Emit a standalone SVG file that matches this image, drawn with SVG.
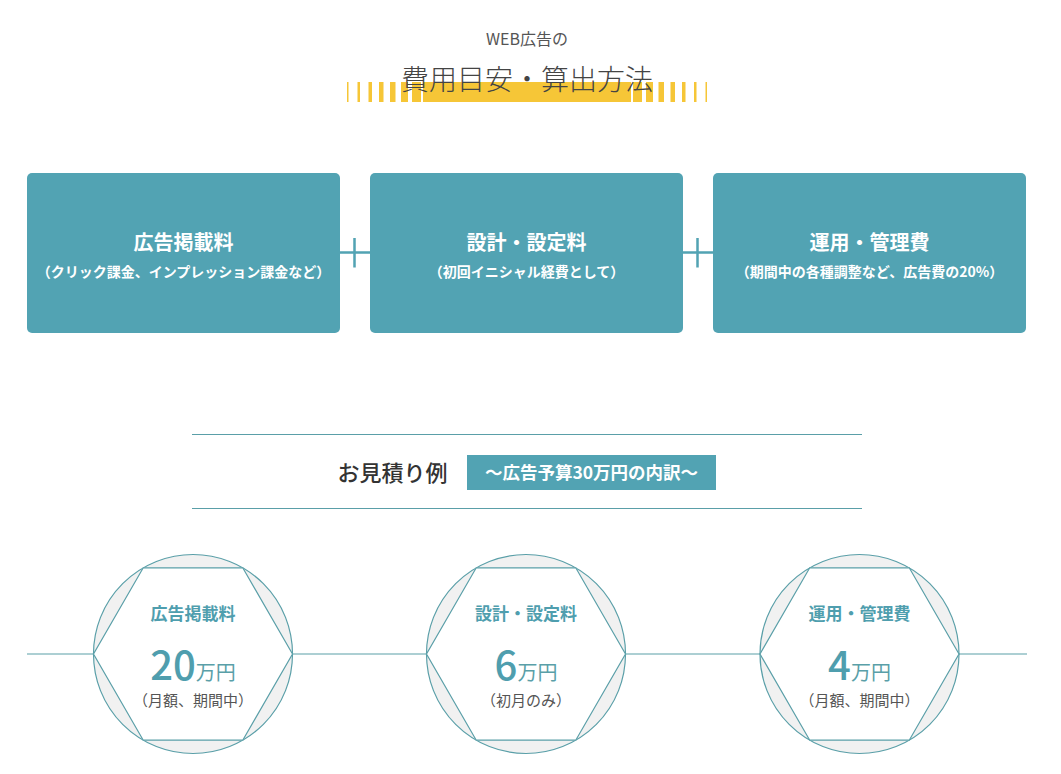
<svg xmlns="http://www.w3.org/2000/svg" width="1061" height="774" viewBox="0 0 1061 774">
<style>
text{font-family:"Noto Sans CJK JP","Noto Sans",sans-serif;text-anchor:middle}
.sub{font-size:16px;fill:#555}
.ttl{font-size:28px;fill:#444;font-weight:300}
.box{fill:#52a3b3}
.bt{font-size:20px;font-weight:700;fill:#fff}
.bs{font-size:14px;font-weight:700;fill:#fff}
.plus{stroke:#52a3b3;stroke-width:2.5;fill:none}
.rule{stroke:#5a9fa8;stroke-width:1.2}
.ct{font-size:17px;font-weight:700;fill:#4f9eae}
.num{font-size:40px;font-weight:500;fill:#4f9eae}
.unit{font-size:20px;fill:#5a9fa8;font-weight:400}
.note{font-size:15px;fill:#555}
.yl{fill:#f6c637}
</style>
<defs>
<g id="hexc">
<circle cx="0" cy="0" r="99.5" fill="#f1f1f1" stroke="#5a9fa8" stroke-width="1.2"/>
<polygon points="99.5,0 49.75,-86.2 -49.75,-86.2 -99.5,0 -49.75,86.2 49.75,86.2" fill="#fff" stroke="#5a9fa8" stroke-width="1.2"/>
</g>
</defs>
<rect width="1061" height="774" fill="#fff"/>
<g id="title">
<g id="stripes">
<rect class="yl" x="347" y="82" width="1.5" height="20"/>
<rect class="yl" x="357.5" y="82" width="2.5" height="20"/>
<rect class="yl" x="368.5" y="82" width="3.5" height="20"/>
<rect class="yl" x="379" y="82" width="4.5" height="20"/>
<rect class="yl" x="390" y="82" width="5.5" height="20"/>
<rect class="yl" x="401" y="82" width="7" height="20"/>
<rect class="yl" x="412" y="82" width="9" height="20"/>
<rect class="yl" x="423" y="82" width="208" height="20"/>
<rect class="yl" x="633" y="82" width="9" height="20"/>
<rect class="yl" x="646" y="82" width="7" height="20"/>
<rect class="yl" x="658.5" y="82" width="5.5" height="20"/>
<rect class="yl" x="670.5" y="82" width="4.5" height="20"/>
<rect class="yl" x="682" y="82" width="3.5" height="20"/>
<rect class="yl" x="694" y="82" width="2.5" height="20"/>
<rect class="yl" x="705.5" y="82" width="1.5" height="20"/>
</g>
<text class="sub" x="527" y="45">WEB広告の</text>
<text class="ttl" x="527" y="90">費用目安・算出方法</text>
</g>
<g id="node1">
<rect class="box" x="27" y="173" width="313" height="160" rx="5"/>
<text class="bt" x="183.5" y="250">広告掲載料</text>
<text class="bs" x="183.5" y="277">（クリック課金、インプレッション課金など）</text>
</g>
<g id="node2">
<rect class="box" x="370" y="173" width="313" height="160" rx="5"/>
<text class="bt" x="526.5" y="250">設計・設定料</text>
<text class="bs" x="526.5" y="277">（初回イニシャル経費として）</text>
</g>
<g id="node3">
<rect class="box" x="713" y="173" width="313" height="160" rx="5"/>
<text class="bt" x="869.5" y="250">運用・管理費</text>
<text class="bs" x="869.5" y="277">（期間中の各種調整など、広告費の20%）</text>
</g>
<g id="connectors">
<path class="plus" d="M340 252.5H370M354.5 238V267.5"/>
<path class="plus" d="M683 252.5H713M697.5 238V267.5"/>
<line x1="27" y1="654" x2="1027" y2="654" stroke="#5a9fa8" stroke-width="1.2"/>
</g>
<g id="example-header">
<line class="rule" x1="192" y1="434.5" x2="862" y2="434.5"/>
<line class="rule" x1="192" y1="508.5" x2="862" y2="508.5"/>
<text x="392.5" y="481" style="font-size:22px;fill:#333;font-weight:500">お見積り例</text>
<rect class="box" x="467" y="455" width="249" height="35"/>
<text x="591.5" y="479" style="font-size:17.5px;fill:#fff;font-weight:700">～広告予算30万円の内訳～</text>
</g>
<g id="circle1">
<use href="#hexc" x="193" y="654"/>
<text class="ct" x="193" y="620">広告掲載料</text>
<text x="193" y="680"><tspan class="num">20</tspan><tspan class="unit">万円</tspan></text>
<text class="note" x="193" y="706">（月額、期間中）</text>
</g>
<g id="circle2">
<use href="#hexc" x="526" y="654"/>
<text class="ct" x="526" y="620">設計・設定料</text>
<text x="526" y="680"><tspan class="num">6</tspan><tspan class="unit">万円</tspan></text>
<text class="note" x="526" y="706">（初月のみ）</text>
</g>
<g id="circle3">
<use href="#hexc" x="859.5" y="654"/>
<text class="ct" x="859.5" y="620">運用・管理費</text>
<text x="859.5" y="680"><tspan class="num">4</tspan><tspan class="unit">万円</tspan></text>
<text class="note" x="859.5" y="706">（月額、期間中）</text>
</g>
</svg>
